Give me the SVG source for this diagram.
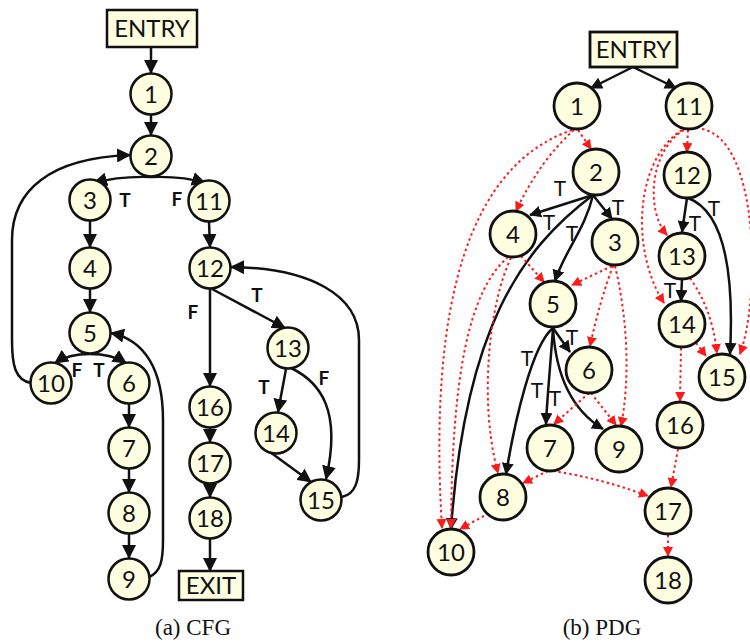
<svg xmlns="http://www.w3.org/2000/svg" width="750" height="644" viewBox="0 0 750 644">
  <defs>
    <style>
      .nd circle, .nd rect { fill: #fefee0; stroke: #111; stroke-width: 2.5; }
      .pdg .nd circle, .pdg .nd rect { stroke-width: 2.8; }
      .nd text { font-family: Lato, "Liberation Sans", sans-serif; font-size: 24px; fill: #111; text-anchor: middle; }
      .e { fill: none; stroke: #111; stroke-width: 2.5; }
      .cfg .e { marker-end: url(#ah); }
      .pdg .e { marker-end: url(#ab); }
      .d { fill: none; stroke: #ff1a1a; stroke-width: 2; stroke-dasharray: 2.5 3; marker-end: url(#ar); }
      .lb { font-family: Lato, "Liberation Sans", sans-serif; font-size: 19px; font-weight: bold; fill: #111; text-anchor: middle; }
      .lt { font-family: Lato, "Liberation Sans", sans-serif; font-size: 21px; fill: #111; text-anchor: middle; }
      .cap { font-family: "Liberation Serif", "Times New Roman", serif; font-size: 23px; fill: #111; text-anchor: middle; }
    </style>
    <marker id="ah" viewBox="0 0 14 14" refX="13" refY="7" markerWidth="14" markerHeight="14" markerUnits="userSpaceOnUse" orient="auto">
      <path d="M0,0 L14,7 L0,14 z" fill="#111"/>
    </marker>
    <marker id="ab" viewBox="0 0 12 12" refX="11" refY="6" markerWidth="12" markerHeight="12" markerUnits="userSpaceOnUse" orient="auto">
      <path d="M0,0 L12,6 L0,12 z" fill="#111"/>
    </marker>
    <marker id="ar" viewBox="0 0 10 10" refX="9" refY="5" markerWidth="10" markerHeight="10" markerUnits="userSpaceOnUse" orient="auto">
      <path d="M0,0 L10,5 L0,10 z" fill="#ff1a1a"/>
    </marker>
  </defs>

  <!-- (a) control flow graph -->
  <g class="cfg">
    <g id="cfg-edges">
      <path class="e" d="M151,47 L151,73"/>
      <path class="e" d="M151,115 L151,135"/>
      <path class="e" d="M151,177 Q118,176 94,183"/>
      <path class="e" d="M151,177 Q184,176 205,183"/>
      <path class="e" d="M90,221 L90,247"/>
      <path class="e" d="M90,289 L90,312"/>
      <path class="e" d="M90,354 Q68,354 55,363"/>
      <path class="e" d="M90,354 Q112,354 126,363"/>
      <path class="e" d="M129,404 L129,427"/>
      <path class="e" d="M129,469 L129,492"/>
      <path class="e" d="M129,534 L129,558"/>
      <path class="e" d="M209,222 L210,247"/>
      <path class="e" d="M210,289 L210,386"/>
      <path class="e" d="M212,289 L285,328"/>
      <path class="e" d="M286,369 L278,412"/>
      <path class="e" d="M291,368 C320,382 342,410 326,479"/>
      <path class="e" d="M270,452 L311,482"/>
      <path class="e" d="M210,428 L210,442"/>
      <path class="e" d="M210,484 L210,497"/>
      <path class="e" d="M210,539 L210,571"/>
      <path class="e" d="M31,383 C15,380 12,365 12,340 L12,240 C12,190 50,158 130,155"/>
      <path class="e" d="M149,577 C161,572 163,560 163,540 L163,420 C163,370 145,340 111,333"/>
      <path class="e" d="M342,497 C356,494 359,480 359,460 L359,340 C359,295 310,268 231,267"/>
      <text class="lb" x="125" y="207">T</text>
      <text class="lb" x="177" y="206">F</text>
      <text class="lb" x="77" y="377">F</text>
      <text class="lb" x="99" y="377">T</text>
      <text class="lb" x="193" y="319">F</text>
      <text class="lb" x="257" y="302">T</text>
      <text class="lb" x="264" y="394">T</text>
      <text class="lb" x="324" y="385">F</text>
    </g>
    <g id="cfg-entry" class="nd"><rect x="107" y="10" width="90" height="37"/><text x="152" y="37">ENTRY</text></g>
    <g id="cfg-1" class="nd"><circle cx="151" cy="94" r="20.5"/><text x="151" y="102.5">1</text></g>
    <g id="cfg-2" class="nd"><circle cx="151" cy="156" r="20.5"/><text x="151" y="164.5">2</text></g>
    <g id="cfg-3" class="nd"><circle cx="90" cy="200" r="20.5"/><text x="90" y="208.5">3</text></g>
    <g id="cfg-11" class="nd"><circle cx="209" cy="201" r="20.5"/><text x="209" y="209.5">11</text></g>
    <g id="cfg-4" class="nd"><circle cx="90" cy="268" r="20.5"/><text x="90" y="276.5">4</text></g>
    <g id="cfg-12" class="nd"><circle cx="210" cy="268" r="20.5"/><text x="210" y="276.5">12</text></g>
    <g id="cfg-5" class="nd"><circle cx="90" cy="333" r="20.5"/><text x="90" y="341.5">5</text></g>
    <g id="cfg-10" class="nd"><circle cx="51" cy="383" r="20.5"/><text x="51" y="391.5">10</text></g>
    <g id="cfg-6" class="nd"><circle cx="129" cy="383" r="20.5"/><text x="129" y="391.5">6</text></g>
    <g id="cfg-13" class="nd"><circle cx="288" cy="348" r="20.5"/><text x="288" y="356.5">13</text></g>
    <g id="cfg-16" class="nd"><circle cx="210" cy="407" r="20.5"/><text x="210" y="415.5">16</text></g>
    <g id="cfg-14" class="nd"><circle cx="276" cy="433" r="20.5"/><text x="276" y="441.5">14</text></g>
    <g id="cfg-7" class="nd"><circle cx="129" cy="448" r="20.5"/><text x="129" y="456.5">7</text></g>
    <g id="cfg-17" class="nd"><circle cx="210" cy="463" r="20.5"/><text x="210" y="471.5">17</text></g>
    <g id="cfg-15" class="nd"><circle cx="321" cy="500" r="20.5"/><text x="321" y="508.5">15</text></g>
    <g id="cfg-8" class="nd"><circle cx="129" cy="513" r="20.5"/><text x="129" y="521.5">8</text></g>
    <g id="cfg-18" class="nd"><circle cx="210" cy="518" r="20.5"/><text x="210" y="526.5">18</text></g>
    <g id="cfg-9" class="nd"><circle cx="129" cy="579" r="20.5"/><text x="129" y="587.5">9</text></g>
    <g id="cfg-exit" class="nd"><rect x="179" y="571" width="64" height="29"/><text x="211" y="594">EXIT</text></g>
    <text class="cap" x="193" y="635">(a) CFG</text>
  </g>

  <!-- (b) program dependence graph -->
  <g class="pdg">
    <g id="pdg-edges">
      <!-- control dependences -->
      <path class="e" d="M633,67 L591,88"/>
      <path class="e" d="M633,67 L676,88"/>
      <path class="e" d="M593,195 L530,215"/>
      <path class="e" d="M593,195 L612,219"/>
      <path class="e" d="M593,195 C585,230 565,250 555,281"/>
      <path class="e" d="M593,195 C520,250 465,330 451,529"/>
      <path class="e" d="M553,328 L570,352"/>
      <path class="e" d="M553,328 C550,370 547,400 546,424"/>
      <path class="e" d="M553,328 C556,380 575,412 603,429"/>
      <path class="e" d="M553,328 C532,345 515,420 506,474"/>
      <path class="e" d="M687,198 L682,232"/>
      <path class="e" d="M688,198 C720,210 735,260 730,354"/>
      <path class="e" d="M682,279 L681,301"/>
      <!-- data dependences -->
      <path class="d" d="M578,130 L591,149"/>
      <path class="d" d="M574,130 Q540,160 516,211"/>
      <path class="d" d="M572,130 C470,165 428,300 442,528"/>
      <path class="d" d="M508,257 C470,290 452,370 451,528"/>
      <path class="d" d="M511,258 C490,300 478,400 498,473"/>
      <path class="d" d="M521,256 L544,282"/>
      <path class="d" d="M612,266 L572,285"/>
      <path class="d" d="M613,266 Q600,300 590,346"/>
      <path class="d" d="M615,266 C628,320 630,380 621,426"/>
      <path class="d" d="M589,393 L554,424"/>
      <path class="d" d="M591,393 L616,425"/>
      <path class="d" d="M548,471 L523,483"/>
      <path class="d" d="M553,471 Q600,478 648,496"/>
      <path class="d" d="M484,516 L460,529"/>
      <path class="d" d="M688,130 L687,152"/>
      <path class="d" d="M684,130 C650,150 645,210 667,235"/>
      <path class="d" d="M682,130 C635,160 630,250 664,303"/>
      <path class="d" d="M702,129 C760,140 760,300 740,354"/>
      <path class="d" d="M690,278 C705,300 713,320 717,353"/>
      <path class="d" d="M696,343 L706,356"/>
      <path class="d" d="M681,348 L680,401"/>
      <path class="d" d="M678,449 L671,487"/>
      <path class="d" d="M668,535 L668,556"/>
      <text class="lt" x="560" y="195.5">T</text>
      <text class="lt" x="549" y="229.5">T</text>
      <text class="lt" x="572" y="240.5">T</text>
      <text class="lt" x="618" y="214.5">T</text>
      <text class="lt" x="572" y="344.5">T</text>
      <text class="lt" x="527" y="365.5">T</text>
      <text class="lt" x="537" y="397.5">T</text>
      <text class="lt" x="555" y="405.5">T</text>
      <text class="lt" x="714" y="215.5">T</text>
      <text class="lt" x="695" y="230.5">T</text>
      <text class="lt" x="670" y="297.5">T</text>
    </g>
    <g id="pdg-entry" class="nd"><rect x="590" y="32" width="87" height="35"/><text x="633.5" y="58">ENTRY</text></g>
    <g id="pdg-1" class="nd"><circle cx="577" cy="106" r="23"/><text x="577" y="114.5">1</text></g>
    <g id="pdg-11" class="nd"><circle cx="689" cy="106" r="23"/><text x="689" y="114.5">11</text></g>
    <g id="pdg-2" class="nd"><circle cx="596" cy="172" r="23"/><text x="596" y="180.5">2</text></g>
    <g id="pdg-12" class="nd"><circle cx="687" cy="175" r="23"/><text x="687" y="183.5">12</text></g>
    <g id="pdg-4" class="nd"><circle cx="513" cy="234" r="23"/><text x="513" y="242.5">4</text></g>
    <g id="pdg-3" class="nd"><circle cx="615" cy="242" r="23"/><text x="615" y="250.5">3</text></g>
    <g id="pdg-13" class="nd"><circle cx="682" cy="256" r="23"/><text x="682" y="264.5">13</text></g>
    <g id="pdg-5" class="nd"><circle cx="553" cy="304" r="23"/><text x="553" y="312.5">5</text></g>
    <g id="pdg-14" class="nd"><circle cx="682" cy="324" r="23"/><text x="682" y="332.5">14</text></g>
    <g id="pdg-6" class="nd"><circle cx="589" cy="370" r="23"/><text x="589" y="378.5">6</text></g>
    <g id="pdg-15" class="nd"><circle cx="722" cy="377" r="23"/><text x="722" y="385.5">15</text></g>
    <g id="pdg-16" class="nd"><circle cx="680" cy="425" r="23"/><text x="680" y="433.5">16</text></g>
    <g id="pdg-7" class="nd"><circle cx="550" cy="448" r="23"/><text x="550" y="456.5">7</text></g>
    <g id="pdg-9" class="nd"><circle cx="619" cy="449" r="23"/><text x="619" y="457.5">9</text></g>
    <g id="pdg-8" class="nd"><circle cx="503" cy="497" r="23"/><text x="503" y="505.5">8</text></g>
    <g id="pdg-17" class="nd"><circle cx="668" cy="511" r="23"/><text x="668" y="519.5">17</text></g>
    <g id="pdg-10" class="nd"><circle cx="451" cy="552" r="23"/><text x="451" y="560.5">10</text></g>
    <g id="pdg-18" class="nd"><circle cx="668" cy="580" r="23"/><text x="668" y="588.5">18</text></g>
    <text class="cap" x="602" y="635">(b) PDG</text>
  </g>
</svg>
